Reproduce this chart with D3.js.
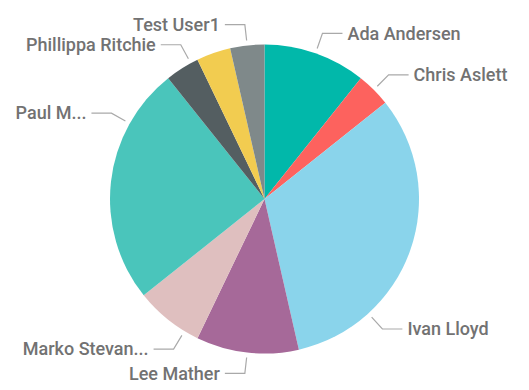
<!DOCTYPE html>
<html>
<head>
<meta charset="utf-8">
<script src="https://cdn.jsdelivr.net/npm/d3@7"></script>
<style>
  html, body { margin: 0; padding: 0; background: #ffffff; }
  svg { display: block; }
  .lbl { font-family: Roboto, "Open Sans", sans-serif; font-size: 18px; font-weight: 500; fill: #727272; }
</style>
</head>
<body>
<svg id="chart" width="529" height="390"></svg>
<script>
// Count of records per person
const people = ["Ada Andersen", "Chris Aslett", "Ivan Lloyd", "Lee Mather", "Marko Stevanovic",
                "Paul Matthews", "Phillippa Ritchie", "Test User2", "Test User1"];
const counts = [3, 1, 9, 3, 2, 7, 1, 1, 1];
const displayLabels = ["Ada Andersen", "Chris Aslett", "Ivan Lloyd", "Lee Mather", "Marko Stevan...",
                       "Paul M...", "Phillippa Ritchie", null, "Test User1"];
const sliceColors = ["#01B8AA", "#FD625E", "#8AD4EB", "#A66999", "#DFBFBF",
                     "#4AC5BB", "#545E61", "#F2CC50", "#7F898A"];

// Layout
const width = 529, height = 390;
const cx = 264.5, cy = 199, radius = 154.5;
const lineStart = 5, lineElbow = 21, lineRun = 20, textGap = 5;
// Leader-line angle (degrees, clockwise from 12 o'clock) where a label is shifted off its slice centre
const labelAngleOverride = { "Ivan Lloyd": 137.8, "Marko Stevanovic": 211.2, "Paul Matthews": 299.3, "Phillippa Ritchie": 331.5 };

const svg = d3.select("#chart");
const g = svg.append("g").attr("transform", `translate(${cx},${cy})`);

const data = people.map((name, i) => ({ name, value: counts[i], label: displayLabels[i], color: sliceColors[i] }));

const pie = d3.pie().value(d => d.value).sort(null).startAngle(0).endAngle(2 * Math.PI);
const arc = d3.arc().innerRadius(0).outerRadius(radius);
const arcs = pie(data);

g.selectAll("path.slice")
  .data(arcs)
  .join("path")
  .attr("class", "slice")
  .attr("d", arc)
  .attr("fill", d => d.data.color);

// Leader lines and labels
const polar = (angle, r) => [r * Math.sin(angle), -r * Math.cos(angle)];
const labelled = arcs.filter(d => d.data.label);

labelled.forEach(d => {
  const deg = labelAngleOverride[d.data.name];
  const a = deg !== undefined ? deg * Math.PI / 180 : (d.startAngle + d.endAngle) / 2;
  const right = a < Math.PI;
  const p0 = polar(a, radius + lineStart);
  const p1 = polar(a, radius + lineElbow);
  const p2 = [p1[0] + (right ? lineRun : -lineRun), p1[1]];

  g.append("polyline")
    .attr("points", [p0, p1, p2].map(p => p.join(",")).join(" "))
    .attr("fill", "none")
    .attr("stroke", "#a9a9a9")
    .attr("stroke-width", 1.2);

  g.append("text")
    .attr("class", "lbl")
    .attr("x", p2[0] + (right ? textGap : -textGap))
    .attr("y", p2[1])
    .attr("dy", "0.35em")
    .attr("text-anchor", right ? "start" : "end")
    .text(d.data.label);
});
</script>
</body>
</html>
